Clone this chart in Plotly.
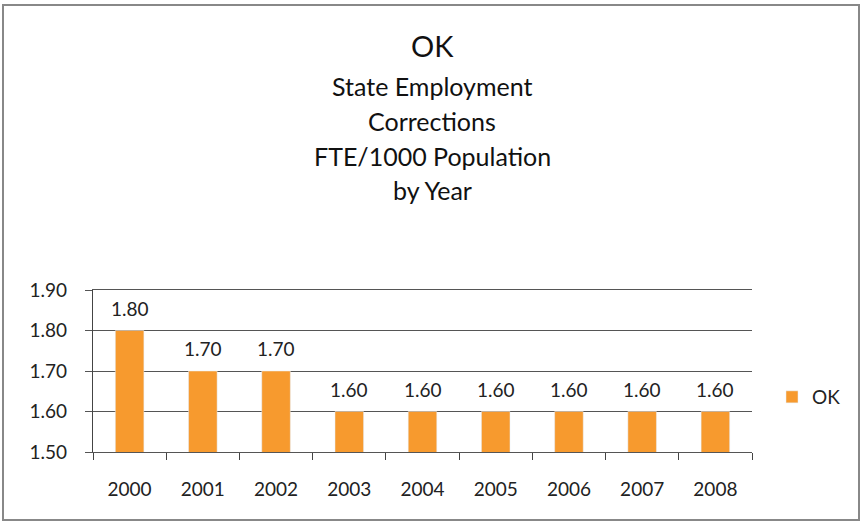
import plotly.graph_objects as go

years = ["2000", "2001", "2002", "2003", "2004", "2005", "2006", "2007", "2008"]
values = [1.80, 1.70, 1.70, 1.60, 1.60, 1.60, 1.60, 1.60, 1.60]
y_ticks = [1.50, 1.60, 1.70, 1.80, 1.90]

W, H = 863, 527
L, R, T, B = 93, 752, 290, 452
pw, ph = R - L, B - T

def px(x):
    return (x - L) / pw

def py(y):
    return (B - y) / ph

font = "Lato, 'Open Sans', sans-serif"
orange = "#F79A2E"

fig = go.Figure()
fig.add_trace(go.Bar(
    x=years, y=values, name="OK", marker_color=orange, width=0.39,
))

# data labels placed on the category axis by category index
label_annotations = [
    dict(x=i, y=v, xref="x", yref="y", text=f"{v:.2f}", showarrow=False,
         yanchor="bottom", xanchor="center", yshift=9,
         font=dict(size=19, color="#222"))
    for i, v in enumerate(values)
]

title_lines = [("OK", 45, 29), ("State Employment", 86, 25), ("Corrections", 121, 25),
               ("FTE/1000 Population", 156, 25), ("by Year", 190, 25)]
title_annotations = [
    dict(text=t, x=px(432), y=py(yy), xref="paper", yref="paper", showarrow=False,
         font=dict(size=s, color="#111"), xanchor="center", yanchor="middle")
    for t, yy, s in title_lines
]

fig.update_layout(
    width=W, height=H,
    margin=dict(l=L, r=W - R, t=T, b=H - B),
    paper_bgcolor="white", plot_bgcolor="white",
    font=dict(family=font, color="#222"),
    showlegend=True,
    legend=dict(x=px(772), y=py(397), xanchor="left", yanchor="middle",
                font=dict(size=19, color="#222"), itemwidth=30),
    xaxis=dict(type="category", categoryorder="array", categoryarray=years,
               range=[-0.5, len(years) - 0.5],
               showline=True, mirror=True, linecolor="#555", linewidth=1.3,
               ticks="outside", tickson="boundaries",
               ticklen=7, tickcolor="#444", tickfont=dict(size=19, color="#222"),
               ticklabelstandoff=20, showgrid=False),
    yaxis=dict(range=[1.50, 1.90], tickvals=y_ticks, ticktext=[f"{v:.2f}" for v in y_ticks],
               showgrid=True, gridcolor="#555", gridwidth=1.3, zeroline=False,
               showline=True, linecolor="#444", linewidth=1.3, ticks="outside",
               ticklen=7, tickcolor="#555", tickfont=dict(size=19, color="#222"),
               ticklabelstandoff=14),
    annotations=title_annotations + label_annotations,
    shapes=[
        dict(type="rect", xref="paper", yref="paper", x0=px(3), x1=px(859), y0=py(520), y1=py(5),
             line=dict(color="#888", width=2)),
    ],
)

fig.write_html("out.html", config={"displayModeBar": False},
               post_script="document.body.style.margin='0';document.body.style.overflow='hidden';document.documentElement.style.overflow='hidden';")
